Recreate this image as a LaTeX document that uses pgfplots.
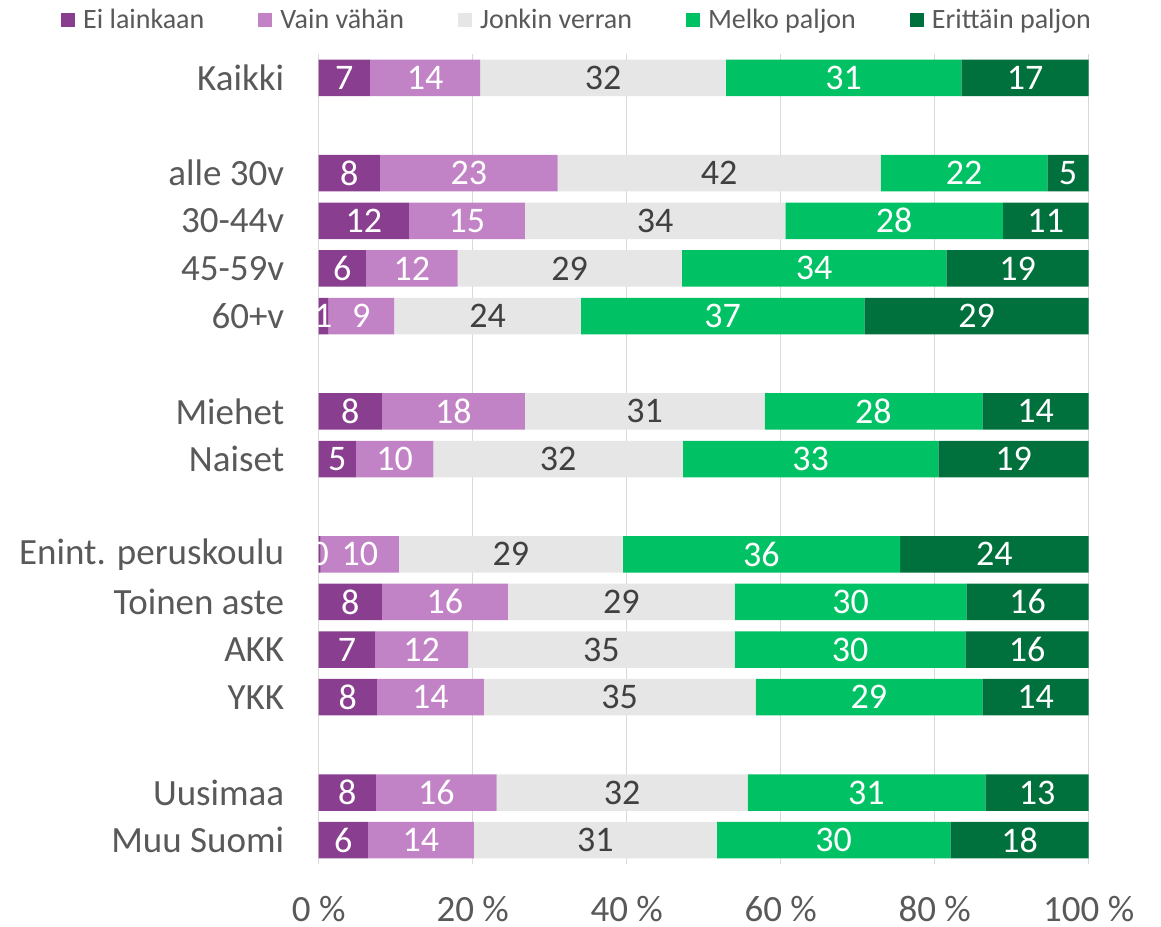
\documentclass[border=0pt]{standalone}
\usepackage{fontspec}
\setmainfont{Carlito}
\usepackage{pgfplots}
\usepackage{pgfplotstable}
\pgfplotsset{compat=1.18}

\definecolor{c1}{HTML}{893E8F}
\definecolor{c2}{HTML}{C282C6}
\definecolor{c3}{HTML}{E6E6E6}
\definecolor{c4}{HTML}{00C264}
\definecolor{c5}{HTML}{00703C}
\definecolor{txt}{HTML}{595959}
\definecolor{dark}{HTML}{404040}
\definecolor{gridc}{HTML}{D9D9D9}

% y = row slot (gaps between groups), a..e = bar widths in %, la..le = printed labels
\pgfplotstableread{
y  a     b     c     d     e     la lb lc ld le
0  6.66  14.32 31.89 30.60 16.53 7  14 32 31 17
2  7.96  23.07 41.96 21.65 5.36  8  23 42 22 5
3  11.72 15.06 33.84 28.22 11.16 12 15 34 28 11
4  6.14  11.90 29.12 34.36 18.48 6  12 29 34 19
5  1.21  8.60  24.24 36.83 29.12 1  9  24 37 29
7  8.22  18.56 31.12 28.30 13.80 8  18 31 28 14
8  4.84  10.04 32.42 33.19 19.51 5  10 32 33 19
10 0.25  10.17 29.08 36.00 24.50 0  10 29 36 24
11 8.22  16.35 29.46 30.09 15.88 8  16 29 30 16
12 7.35  12.05 34.63 29.96 16.01 7  12 35 30 16
13 7.57  13.89 35.27 29.47 13.80 8  14 35 29 14
15 7.44  15.66 32.59 30.90 13.41 8  16 32 31 13
16 6.40  13.76 31.54 30.35 17.95 6  14 31 30 18
}\data

\tikzset{big/.style={font=\fontsize{37}{44}\selectfont}}
\pgfplotsset{
  frame/.style={scale only axis, width=770pt, height=810pt,
                xmin=0, xmax=100, ymin=-0.5, ymax=16.5, y dir=reverse},
  lab/.style={draw=none, mark=none, nodes near coords, point meta=explicit symbolic,
              nodes near coords style={anchor=center, inner sep=0pt,
                                       font=\fontsize{36}{43}\selectfont}},
}

\begin{document}
\begin{tikzpicture}
\begin{axis}[
  frame,
  xbar stacked,
  bar width=36.5pt,
  axis line style={draw=none},
  major tick length=0pt,
  xmajorgrids,
  grid style={gridc, line width=1.5pt},
  xtick={0,20,40,60,80,100},
  xticklabels={0 \%,20 \%,40 \%,60 \%,80 \%,100 \%},
  xticklabel style={big, txt, inner sep=0pt, yshift=-32pt},
  ytick={0,2,3,4,5,7,8,10,11,12,13,15,16},
  yticklabels={Kaikki,alle 30v,30-44v,45-59v,60+v,Miehet,Naiset,
               Enint. peruskoulu,Toinen aste,AKK,YKK,Uusimaa,Muu Suomi},
  yticklabel style={big, txt, xshift=-31pt},
  legend columns=5,
  legend style={at={(0.3355,1.042)}, anchor=center, draw=none,
                font=\fontsize{28}{34}\selectfont, text=txt,
                /tikz/every odd column/.append style={column sep=6pt},
                /tikz/every even column/.append style={column sep=52pt}},
  legend image code/.code={\fill[#1] (0pt,-7pt) rectangle (14pt,7pt);},
]
\addplot[fill=c1, draw=none] table[x=a, y=y] {\data};
\addlegendentry{Ei lainkaan}
\addplot[fill=c2, draw=none] table[x=b, y=y] {\data};
\addlegendentry{Vain vähän}
\addplot[fill=c3, draw=none] table[x=c, y=y] {\data};
\addlegendentry{Jonkin verran}
\addplot[fill=c4, draw=none] table[x=d, y=y] {\data};
\addlegendentry{Melko paljon}
\addplot[fill=c5, draw=none] table[x=e, y=y] {\data};
\addlegendentry{Erittäin paljon}
\end{axis}

% value labels, centred in each segment
\begin{axis}[frame, hide axis]
\addplot[lab, nodes near coords style={white}]
  table[x expr=\thisrow{a}/2, y=y, meta=la] {\data};
\addplot[lab, nodes near coords style={white}]
  table[x expr=\thisrow{a}+\thisrow{b}/2, y=y, meta=lb] {\data};
\addplot[lab, nodes near coords style={dark}]
  table[x expr=\thisrow{a}+\thisrow{b}+\thisrow{c}/2, y=y, meta=lc] {\data};
\addplot[lab, nodes near coords style={white}]
  table[x expr=\thisrow{a}+\thisrow{b}+\thisrow{c}+\thisrow{d}/2, y=y, meta=ld] {\data};
\addplot[lab, nodes near coords style={white}]
  table[x expr=\thisrow{a}+\thisrow{b}+\thisrow{c}+\thisrow{d}+\thisrow{e}/2, y=y, meta=le] {\data};
\end{axis}
\pgfresetboundingbox
\path ([shift={(-318.7pt,-62pt)}]current axis.south west) rectangle ++(1161pt,926pt);
\end{tikzpicture}
\end{document}
